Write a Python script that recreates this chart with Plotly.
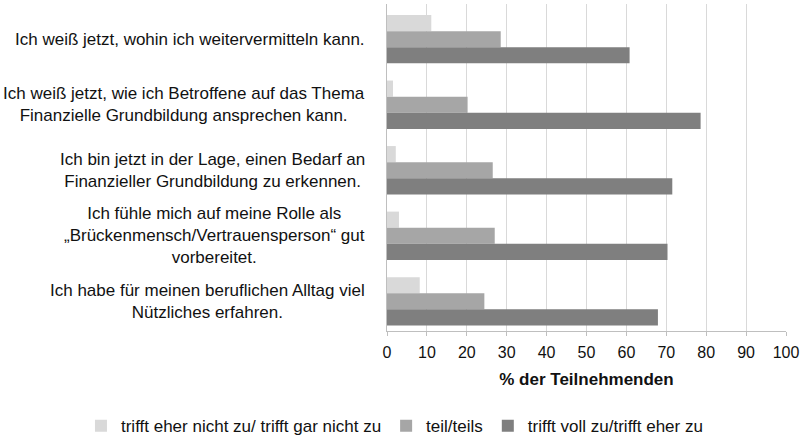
import plotly.graph_objects as go

categories = [
    "Ich weiß jetzt, wohin ich weitervermitteln kann.",
    "Ich weiß jetzt, wie ich Betroffene auf das Thema<br>Finanzielle Grundbildung ansprechen kann.",
    "Ich bin jetzt in der Lage, einen Bedarf an<br>Finanzieller Grundbildung zu erkennen.",
    "Ich fühle mich auf meine Rolle als<br>„Brückenmensch/Vertrauensperson“ gut<br>vorbereitet.",
    "Ich habe für meinen beruflichen Alltag viel<br>Nützliches erfahren.",
]
series_names = [
    "trifft eher nicht zu/ trifft gar nicht zu",
    "teil/teils",
    "trifft voll zu/trifft eher zu",
]
values_nicht = [11.1, 1.5, 2.2, 3.0, 8.2]
values_teils = [28.5, 20.2, 26.5, 27.0, 24.4]
values_voll = [60.8, 78.6, 71.5, 70.3, 67.9]
colors = ["#d9d9d9", "#a6a6a6", "#7f7f7f"]
x_ticks = [0, 10, 20, 30, 40, 50, 60, 70, 80, 90, 100]
x_title = "% der Teilnehmenden"

FONT = "Liberation Sans, Arial, sans-serif"

fig = go.Figure()
for name, vals, col in zip(series_names, [values_nicht, values_teils, values_voll], colors):
    fig.add_trace(go.Bar(
        y=categories, x=vals, name=name, orientation="h",
        marker=dict(color=col, line=dict(width=0)),
    ))

annotations = []
for cat in categories:
    annotations.append(dict(
        x=0, xref="paper", xshift=-20, xanchor="right",
        y=cat, yref="y", yanchor="middle",
        text=cat, showarrow=False, align="center",
        font=dict(family=FONT, size=17, color="#111111"),
    ))

fig.update_layout(
    width=803, height=438,
    margin=dict(l=387, r=17, t=4, b=107, autoexpand=False),
    paper_bgcolor="white", plot_bgcolor="white",
    barmode="group", bargap=0.262, bargroupgap=0,
    font=dict(family=FONT, size=16, color="#111111"),
    showlegend=True,
    legend=dict(
        orientation="h",
        x=-0.767, xanchor="left", y=-0.2912, yanchor="middle",
        font=dict(family=FONT, size=17, color="#111111"),
        traceorder="normal",
    ),
    annotations=annotations,
    xaxis=dict(
        range=[0, 100], tickvals=x_ticks, ticktext=[str(v) for v in x_ticks],
        automargin=False,
        showgrid=True, gridcolor="#d9d9d9", gridwidth=1,
        showline=True, linecolor="#bfbfbf", linewidth=1,
        ticks="outside", ticklen=4, tickcolor="#bfbfbf",
        ticklabelstandoff=3,
        tickfont=dict(family=FONT, size=16, color="#111111"),
        title=dict(text="<b>" + x_title + "</b>", font=dict(family=FONT, size=17, color="#111111"), standoff=12),
        zeroline=False, fixedrange=True,
    ),
    yaxis=dict(
        range=[4.453, -0.537], showticklabels=False, automargin=False,
        showline=True, linecolor="#bfbfbf", linewidth=1,
        showgrid=False, ticks="", fixedrange=True,
    ),
)

fig.write_html(
    "out.html",
    config={"displayModeBar": False},
    post_script="document.body.style.margin='0';document.body.style.padding='0';",
)
